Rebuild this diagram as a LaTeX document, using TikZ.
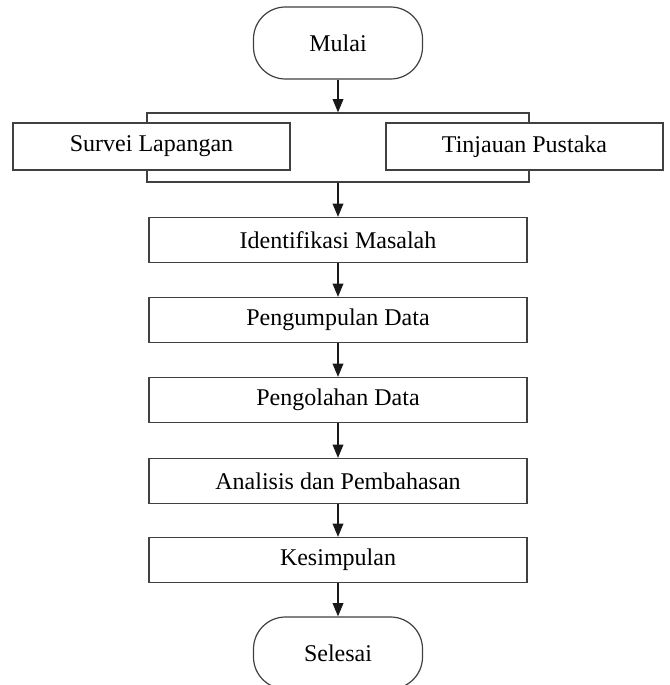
\documentclass[tikz,border=0pt]{standalone}
\usepackage{fontspec}
\setmainfont{Liberation Serif}
\usetikzlibrary{arrows.meta}

\tikzset{
  kotak/.style={draw=black!75, line width=0.9pt, fill=white, inner sep=0pt,
    minimum width=283.5pt, minimum height=33.75pt, font=\fontsize{18}{20}\selectfont},
  sisi/.style={kotak, minimum width=207.75pt, minimum height=35.25pt},
  terminal/.style={kotak, rounded corners=24pt, minimum width=126.75pt, minimum height=54pt},
  panah/.style={-{Triangle[length=10pt,width=8pt]}, line width=1.2pt, black!90}
}

\begin{document}
\begin{tikzpicture}[x=0.75pt,y=-0.75pt]
      \useasboundingbox (0,0) rectangle (670,685);
      \node[terminal] (mulai) at (338,43) {Mulai};
      \node[kotak, minimum width=286.5pt, minimum height=51.75pt] (grp) at (338,147.5) {};
      \node[sisi] (survei) at (151.5,146.5) {Survei Lapangan};
      \node[sisi] (tinjau) at (524.5,146.5) {Tinjauan Pustaka};
      \node[kotak] (idm) at (338,240) {Identifikasi Masalah};
      \node[kotak] (kumpul) at (338,320) {Pengumpulan Data};
      \node[kotak] (olah) at (338,400) {Pengolahan Data};
      \node[kotak] (analisis) at (338,481) {Analisis dan Pembahasan};
      \node[kotak] (simpul) at (338,560) {Kesimpulan};
      \node[terminal] (selesai) at (338,653) {Selesai};
      \draw[panah] (mulai) -- (grp);
      \draw[panah] (grp) -- (idm);
      \draw[panah] (idm) -- (kumpul);
      \draw[panah] (kumpul) -- (olah);
      \draw[panah] (olah) -- (analisis);
      \draw[panah] (analisis) -- (simpul);
      \draw[panah] (simpul) -- (selesai);
    \end{tikzpicture}
\end{document}
